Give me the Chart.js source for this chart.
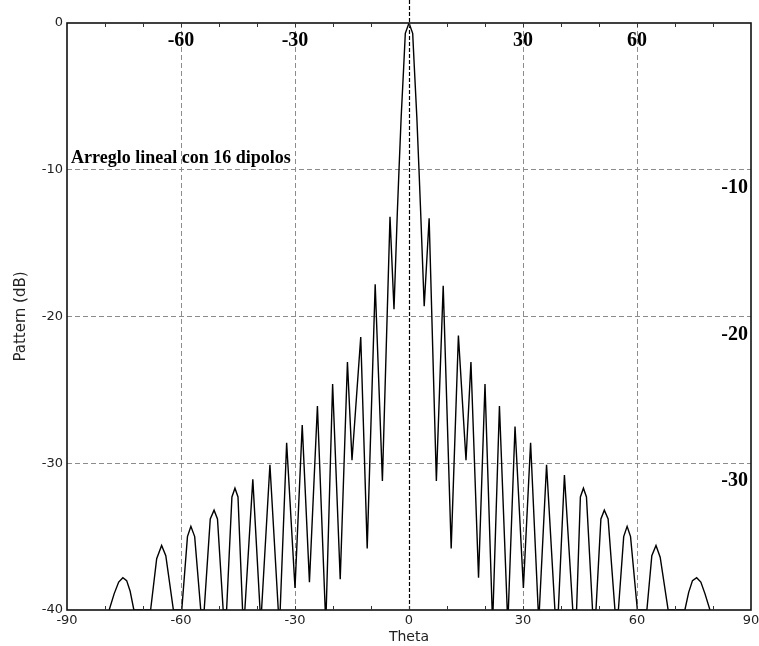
<!DOCTYPE html>
<html>
<head>
<meta charset="utf-8">
<script src="https://cdn.jsdelivr.net/npm/chart.js@4/dist/chart.umd.min.js"></script>
<style>
  html, body { margin: 0; padding: 0; background: #fff; }
  #wrap { width: 759px; height: 646px; position: relative; }
</style>
</head>
<body>
<div id="wrap"><canvas id="myChart"></canvas></div>
<script>
// Patron del arreglo
var theta = [
  -78.9, -77.6, -76.4, -75.3, -74.3, -73.4, -72.4,
  -68.0, -66.4, -65.1, -64.0, -62.0,
  -59.8, -58.3, -57.4, -56.4, -54.8,
  -53.9, -52.3, -51.3, -50.4, -48.9,
  -48.0, -46.6, -45.8, -45.0, -43.8,
  -43.2, -41.1, -39.2,
  -38.8, -36.6, -34.4,
  -33.9, -32.2, -30.0, -28.1, -26.2, -24.1, -21.9, -20.1, -18.1, -16.2, -15.0,
  -12.7, -11.0, -8.9, -7.0, -5.0, -3.95,
  -3.07, -2.63, -2.06, -1.4, -0.97, 0, 0.97, 1.4, 2.06, 2.63, 3.07,
  4.0, 5.3, 7.2, 9.0, 11.1, 13.0, 15.0, 16.3, 18.3, 20.0, 22.0, 23.8, 26.0,
  27.9, 30.1, 32.0, 34.0,
  34.3, 36.2, 38.4,
  39.3, 40.9, 43.1,
  44.1, 45.1, 45.9, 46.7, 48.3,
  49.2, 50.5, 51.4, 52.4, 54.2,
  55.1, 56.5, 57.4, 58.3, 60.1,
  62.6, 63.9, 65.0, 66.1, 68.2,
  72.6, 73.6, 74.6, 75.7, 76.8, 77.9, 79.2
];
var pattern = [
  -40, -38.9, -38.1, -37.8, -38.0, -38.7, -40,
  -40, -36.5, -35.6, -36.3, -40,
  -40, -35.0, -34.3, -35.0, -40,
  -40, -33.8, -33.2, -33.8, -40,
  -40, -32.3, -31.7, -32.3, -40,
  -40, -31.1, -40,
  -40, -30.1, -40,
  -40, -28.6, -38.5, -27.4, -38.1, -26.1, -41, -24.6, -37.9, -23.1, -29.8,
  -21.4, -35.8, -17.8, -31.2, -13.2, -19.5,
  -12.9, -10.0, -6.4, -3.0, -0.7, 0, -0.7, -3.0, -6.4, -10.0, -12.9,
  -19.3, -13.3, -31.2, -17.9, -35.8, -21.3, -29.8, -23.1, -37.8, -24.6, -41, -26.1, -41,
  -27.5, -38.5, -28.6, -40,
  -40, -30.1, -40,
  -40, -30.8, -40,
  -40, -32.3, -31.7, -32.3, -40,
  -40, -33.8, -33.2, -33.8, -40,
  -40, -35.0, -34.3, -35.0, -40,
  -40, -36.3, -35.6, -36.4, -40,
  -40, -38.8, -38.0, -37.8, -38.1, -38.9, -40
];

var gridTheta = [-60, -30, 30, 60];
var gridDb = [-10, -20, -30];
var titulo = "Arreglo lineal con 16 dipolos";

var points = theta.map(function (t, i) { return { x: t, y: pattern[i] }; });

// dibuja marco, linea central, marcas y textos
var extras = {
  id: 'extras',
  beforeDatasetsDraw(chart) {
    const ctx = chart.ctx, a = chart.chartArea, x = chart.scales.x;
    const x0 = Math.round(x.getPixelForValue(0)) + 0.5;
    ctx.save();
    ctx.strokeStyle = '#000';
    ctx.lineWidth = 1.2;
    ctx.setLineDash([4, 2]);
    ctx.beginPath();
    ctx.moveTo(x0, 0);
    ctx.lineTo(x0, a.bottom);
    ctx.stroke();
    ctx.restore();
  },
  afterDraw(chart) {
    const ctx = chart.ctx, a = chart.chartArea, x = chart.scales.x, y = chart.scales.y;
    ctx.save();
    ctx.strokeStyle = '#111';
    ctx.lineWidth = 1.6;
    ctx.strokeRect(a.left, a.top, a.right - a.left, a.bottom - a.top);

    // marcas menores arriba y abajo
    ctx.lineWidth = 1;
    ctx.strokeStyle = '#333';
    for (let v = -80; v <= 80; v += 10) {
      const px = Math.round(x.getPixelForValue(v)) + 0.5;
      ctx.beginPath();
      ctx.moveTo(px, a.top); ctx.lineTo(px, a.top + 4);
      ctx.moveTo(px, a.bottom); ctx.lineTo(px, a.bottom - 4);
      ctx.stroke();
    }

    ctx.fillStyle = '#000';
    ctx.font = 'bold 20px "Liberation Serif", "Times New Roman", serif';
    ctx.textAlign = 'center';
    ctx.textBaseline = 'middle';
    gridTheta.forEach(function (v) {
      ctx.fillText(String(v), x.getPixelForValue(v), a.top + 18);
    });
    ctx.textAlign = 'right';
    gridDb.forEach(function (v) {
      ctx.fillText(String(v), a.right - 3, y.getPixelForValue(v) + 18);
    });

    ctx.font = 'bold 18px "Liberation Serif", "Times New Roman", serif';
    ctx.textAlign = 'left';
    ctx.textBaseline = 'alphabetic';
    ctx.fillText(titulo, a.left + 4, y.getPixelForValue(-10) - 7);
    ctx.restore();
  }
};

var config = {
  type: 'scatter',
  data: {
    datasets: [{
      data: points,
      showLine: true,
      borderColor: '#000',
      borderWidth: 1.4,
      pointRadius: 0,
      tension: 0
    }]
  },
  options: {
    responsive: true,
    maintainAspectRatio: false,
    animation: false,
    devicePixelRatio: 1,
    layout: { padding: { top: 23, right: 8, left: 0, bottom: 0 } },
    plugins: { legend: { display: false }, tooltip: { enabled: false } },
    scales: {
      x: {
        type: 'linear',
        min: -90,
        max: 90,
        afterFit: function (s) { s.height = 36; s.paddingLeft = 0; s.paddingRight = 0; },
        ticks: {
          stepSize: 10,
          autoSkip: false,
          maxRotation: 0,
          padding: 3,
          color: '#222',
          font: { family: '"DejaVu Sans", sans-serif', size: 13 },
          callback: function (v) { return v % 30 === 0 ? String(v) : ''; }
        },
        grid: {
          drawTicks: false,
          lineWidth: 1,
          color: function (c) {
            return c.tick && gridTheta.indexOf(c.tick.value) >= 0 ? '#8c8c8c' : 'rgba(0,0,0,0)';
          }
        },
        border: { display: false, dash: [5, 3] },
        title: {
          display: true,
          text: 'Theta',
          color: '#222',
          padding: { top: 0, bottom: 0 },
          font: { family: '"DejaVu Sans", sans-serif', size: 14 }
        }
      },
      y: {
        type: 'linear',
        min: -40,
        max: 0,
        afterFit: function (s) { s.width = 67; s.paddingTop = 0; s.paddingBottom = 0; },
        ticks: {
          stepSize: 10,
          padding: 4,
          color: '#222',
          font: { family: '"DejaVu Sans", sans-serif', size: 13 }
        },
        grid: {
          drawTicks: false,
          lineWidth: 1,
          color: function (c) {
            return c.tick && gridDb.indexOf(c.tick.value) >= 0 ? '#8c8c8c' : 'rgba(0,0,0,0)';
          }
        },
        border: { display: false, dash: [5, 3] },
        title: {
          display: true,
          text: 'Pattern (dB)',
          color: '#222',
          padding: { top: 12, bottom: 0 },
          font: { family: '"DejaVu Sans", sans-serif', size: 15 }
        }
      }
    }
  },
  plugins: [extras]
};

var myChart = new Chart(document.getElementById('myChart'), config);
</script>
</body>
</html>
